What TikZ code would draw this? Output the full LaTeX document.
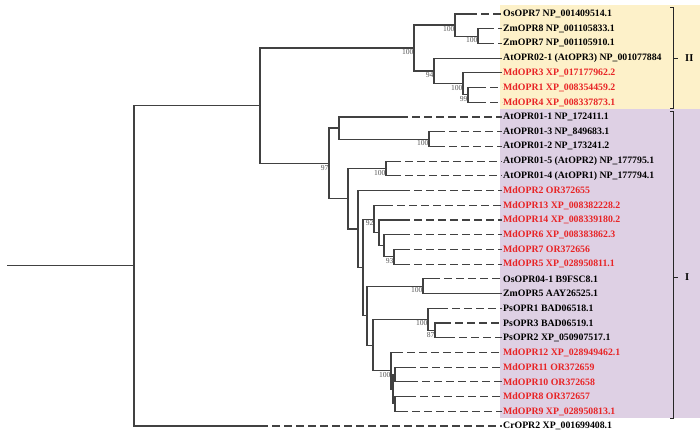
\documentclass[tikz,border=0pt]{standalone}
\usepackage{fontspec}
\setmainfont{Liberation Serif}
\definecolor{linegray}{RGB}{65,65,65}
\definecolor{bsgray}{RGB}{85,85,85}
\definecolor{mdred}{RGB}{232,36,38}
\definecolor{bgyellow}{RGB}{253,241,201}
\definecolor{bgpurple}{RGB}{222,208,228}
\begin{document}
\begin{tikzpicture}[x=1pt,y=-1pt,
  br/.style={line width=1.05pt, draw=linegray},
  dl/.style={br, dash pattern=on 8pt off 4pt},
  leaf/.style={anchor=west, inner sep=1pt, font=\bfseries\fontsize{9.8}{10}\selectfont, text=black},
  md/.style={leaf, text=mdred},
  bs/.style={anchor=north east, inner sep=0.4pt, font=\fontsize{7.6}{8}\selectfont, text=bsgray},
  bk/.style={line width=0.85pt, draw=black!85},
  clade/.style={anchor=west, inner sep=0pt, font=\bfseries\fontsize{10.5}{11}\selectfont}]
\useasboundingbox (0,0) rectangle (700,434);
% backgrounds
\fill[bgyellow] (500,5) rectangle (700,109);
\fill[bgpurple] (500,109) rectangle (700,418);
% leaf tips
\coordinate (t1) at (469,14.0);
\coordinate (t2) at (486,28.7);
\coordinate (t3) at (486,43.4);
\coordinate (t4) at (502,58.1);
\coordinate (t5) at (502,72.9);
\coordinate (t6) at (478,87.6);
\coordinate (t7) at (478,102.3);
\coordinate (t8) at (400,117.0);
\coordinate (t9) at (437,131.7);
\coordinate (t10) at (437,146.4);
\coordinate (t11) at (393,161.1);
\coordinate (t12) at (393,175.9);
\coordinate (t13) at (402,190.6);
\coordinate (t14) at (385,205.3);
\coordinate (t15) at (402,220.0);
\coordinate (t16) at (402,234.7);
\coordinate (t17) at (402,249.4);
\coordinate (t18) at (402,264.1);
\coordinate (t19) at (432,278.9);
\coordinate (t20) at (502,293.6);
\coordinate (t21) at (440,308.3);
\coordinate (t22) at (443,323.0);
\coordinate (t23) at (447,337.7);
\coordinate (t24) at (395,352.4);
\coordinate (t25) at (408,367.1);
\coordinate (t26) at (410,381.9);
\coordinate (t27) at (408,396.6);
\coordinate (t28) at (400,411.3);
\coordinate (t29) at (260,426.0);
% leaf labels
\node[leaf] (l1) at (502,14.0) {OsOPR7 NP\_001409514.1};
\node[leaf] (l2) at (502,28.7) {ZmOPR8 NP\_001105833.1};
\node[leaf] (l3) at (502,43.4) {ZmOPR7 NP\_001105910.1};
\node[leaf] (l4) at (502,58.1) {AtOPR02-1 (AtOPR3) NP\_001077884};
\node[md] (l5) at (502,72.9) {MdOPR3 XP\_017177962.2};
\node[md] (l6) at (502,87.6) {MdOPR1 XP\_008354459.2};
\node[md] (l7) at (502,102.3) {MdOPR4 XP\_008337873.1};
\node[leaf] (l8) at (502,117.0) {AtOPR01-1 NP\_172411.1};
\node[leaf] (l9) at (502,131.7) {AtOPR01-3 NP\_849683.1};
\node[leaf] (l10) at (502,146.4) {AtOPR01-2 NP\_173241.2};
\node[leaf] (l11) at (502,161.1) {AtOPR01-5 (AtOPR2) NP\_177795.1};
\node[leaf] (l12) at (502,175.9) {AtOPR01-4 (AtOPR1) NP\_177794.1};
\node[md] (l13) at (502,190.6) {MdOPR2 OR372655};
\node[md] (l14) at (502,205.3) {MdOPR13 XP\_008382228.2};
\node[md] (l15) at (502,220.0) {MdOPR14 XP\_008339180.2};
\node[md] (l16) at (502,234.7) {MdOPR6 XP\_008383862.3};
\node[md] (l17) at (502,249.4) {MdOPR7 OR372656};
\node[md] (l18) at (502,264.1) {MdOPR5 XP\_028950811.1};
\node[leaf] (l19) at (502,278.9) {OsOPR04-1 B9FSC8.1};
\node[leaf] (l20) at (502,293.6) {ZmOPR5 AAY26525.1};
\node[leaf] (l21) at (502,308.3) {PsOPR1 BAD06518.1};
\node[leaf] (l22) at (502,323.0) {PsOPR3 BAD06519.1};
\node[leaf] (l23) at (502,337.7) {PsOPR2 XP\_050907517.1};
\node[md] (l24) at (502,352.4) {MdOPR12 XP\_028949462.1};
\node[md] (l25) at (502,367.1) {MdOPR11 OR372659};
\node[md] (l26) at (502,381.9) {MdOPR10 OR372658};
\node[md] (l27) at (502,396.6) {MdOPR8 OR372657};
\node[md] (l28) at (502,411.3) {MdOPR9 XP\_028950813.1};
\node[leaf] (l29) at (502,426.0) {CrOPR2 XP\_001699408.1};
% internal nodes
\coordinate (r0) at (7,265.85);
\coordinate (n134) at (134,265.85);
\coordinate (n260) at (260,105.7);
\coordinate (n414) at (414,48.0);
\coordinate (n455) at (455,25.0);
\coordinate (n478) at (478,36.05);
\coordinate (n434) at (434,71.0);
\coordinate (n463) at (463,83.9);
\coordinate (n468) at (468,94.95);
\coordinate (n329) at (329,163.4);
\coordinate (n339) at (339,128.0);
\coordinate (n429) at (429,139.05);
\coordinate (n348) at (348,198.75);
\coordinate (n386) at (386,168.5);
\coordinate (n358) at (358,229.0);
\coordinate (nX) at (363,267.4);
\coordinate (n374) at (374,219.1);
\coordinate (n379) at (379,232.9);
\coordinate (n384) at (384,245.7);
\coordinate (n394) at (394,256.75);
\coordinate (nY) at (367,315.65);
\coordinate (n423) at (423,286.25);
\coordinate (nZ) at (373,345.05);
\coordinate (n428) at (428,319.3);
\coordinate (n435) at (435,330.35);
\coordinate (nM) at (391,370.8);
\coordinate (nQ) at (393,389.2);
\coordinate (nQa) at (395,374.5);
\coordinate (nQb) at (395,403.95);
% internal branches
\draw[br] (r0) -- (n134);
\draw[br] (n134) |- (n260);
\draw[br] (n260) |- (n414);
\draw[br] (n414) |- (n455);
\draw[br] (n455) |- (n478);
\draw[br] (n414) |- (n434);
\draw[br] (n434) |- (n463);
\draw[br] (n463) |- (n468);
\draw[br] (n260) |- (n329);
\draw[br] (n329) |- (n339);
\draw[br] (n339) |- (n429);
\draw[br] (n329) |- (n348);
\draw[br] (n348) |- (n386);
\draw[br] (n348) |- (n358);
\draw[br] (n358) |- (nX);
\draw[br] (nX) |- (n374);
\draw[br] (n374) |- (n379);
\draw[br] (n379) |- (n384);
\draw[br] (n384) |- (n394);
\draw[br] (nX) |- (nY);
\draw[br] (nY) |- (n423);
\draw[br] (nY) |- (nZ);
\draw[br] (nZ) |- (n428);
\draw[br] (n428) |- (n435);
\draw[br] (nZ) |- (nM);
\draw[br] (nM) |- (nQ);
\draw[br] (nQ) |- (nQa);
\draw[br] (nQ) |- (nQb);
% terminal branches
\draw[br] (n455) |- (t1);
\draw[br] (n478) |- (t2);
\draw[br] (n478) |- (t3);
\draw[br] (n434) |- (t4);
\draw[br] (n463) |- (t5);
\draw[br] (n468) |- (t6);
\draw[br] (n468) |- (t7);
\draw[br] (n339) |- (t8);
\draw[br] (n429) |- (t9);
\draw[br] (n429) |- (t10);
\draw[br] (n386) |- (t11);
\draw[br] (n386) |- (t12);
\draw[br] (n358) |- (t13);
\draw[br] (n374) |- (t14);
\draw[br] (n379) |- (t15);
\draw[br] (n384) |- (t16);
\draw[br] (n394) |- (t17);
\draw[br] (n394) |- (t18);
\draw[br] (n423) |- (t19);
\draw[br] (n423) |- (t20);
\draw[br] (n428) |- (t21);
\draw[br] (n435) |- (t22);
\draw[br] (n435) |- (t23);
\draw[br] (nM) |- (t24);
\draw[br] (nQa) |- (t25);
\draw[br] (nQa) |- (t26);
\draw[br] (nQb) |- (t27);
\draw[br] (nQb) |- (t28);
\draw[br] (n134) |- (t29);
% dashed extensions
\foreach \i in {1,2,3,6,7,8,9,10,11,12,13,14,15,16,17,18,19,21,22,23,24,25,26,27,28,29}
  \draw[dl] (t\i) -- (l\i.west);
% bootstrap values
\node[bs] (b414) at (414,49.0) {100};
\node[bs] (b455) at (455,26.0) {100};
\node[bs] (b478) at (478,37.0) {100};
\node[bs] (b434) at (434,72.0) {94};
\node[bs] (b463) at (463,85.0) {100};
\node[bs] (b468) at (468,96.0) {99};
\node[bs] (b329) at (329,164.4) {97};
\node[bs] (b429) at (429,140.0) {100};
\node[bs] (b386) at (386,169.5) {100};
\node[bs] (b374) at (374,220.0) {92};
\node[bs] (b394) at (394,257.8) {93};
\node[bs] (b423) at (423,287.3) {100};
\node[bs] (b428) at (428,320.3) {100};
\node[bs] (b435) at (435,331.4) {87};
\node[bs] (b391) at (391,372.0) {100};
% clade brackets
\draw[bk] (670,7) -- (673,7) -- (673,108) -- (670,108);
\draw[bk] (673,58) -- (678,58);
\node[clade] (cII) at (685,58) {II};
\draw[bk] (670,111) -- (673,111) -- (673,418) -- (670,418);
\draw[bk] (673,277) -- (678,277);
\node[clade] (cI) at (685,277) {I};
\end{tikzpicture}
\end{document}
